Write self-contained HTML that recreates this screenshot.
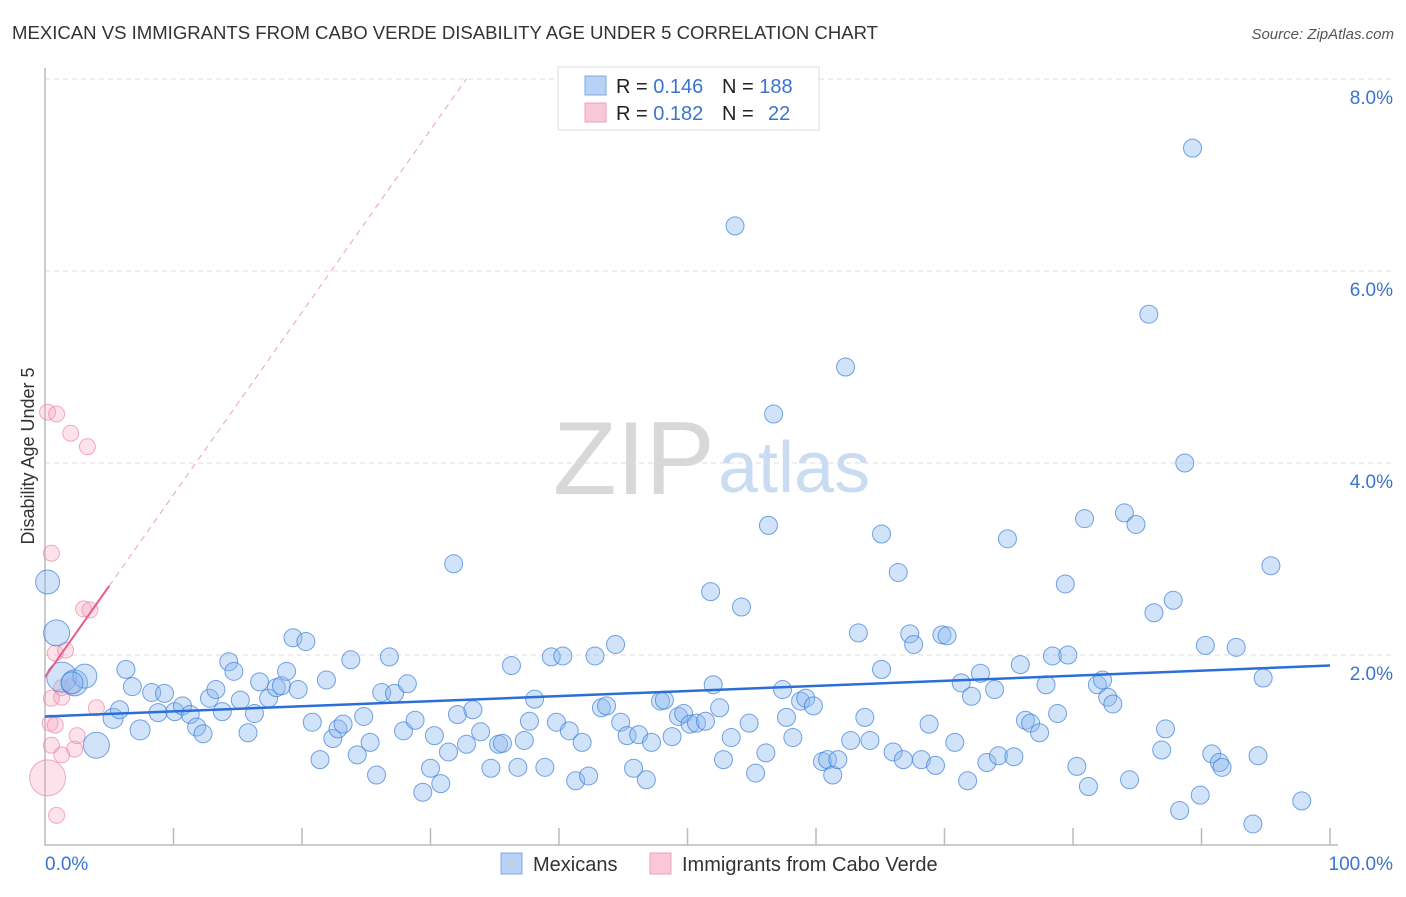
<!DOCTYPE html>
<html><head><meta charset="utf-8"><style>
body{margin:0;background:#fff;font-family:"Liberation Sans",sans-serif;}
svg text{font-family:"Liberation Sans",sans-serif;}
</style></head><body>
<svg id="chart" width="1406" height="892" xmlns="http://www.w3.org/2000/svg">
<text x="12" y="39" font-size="18" fill="#333" textLength="866" lengthAdjust="spacingAndGlyphs">MEXICAN VS IMMIGRANTS FROM CABO VERDE DISABILITY AGE UNDER 5 CORRELATION CHART</text>
<text x="1394" y="39" font-size="15" fill="#555" font-style="italic" text-anchor="end">Source: ZipAtlas.com</text>
<g>
<text x="553" y="494" font-size="104" fill="#d8d8d8" font-family="Liberation Serif,serif">ZIP</text>
<text x="718" y="492" font-size="72" fill="#c9dcf2">atlas</text>
</g>
<g id="grid"></g>
<g id="axes"></g>
<g id="pts"></g>
<g id="lines"></g>
<text x="0" y="0" transform="translate(34,456) rotate(-90)" font-size="18" fill="#333" text-anchor="middle">Disability Age Under 5</text>
<text x="45" y="870" font-size="19" fill="#3a74d0">0.0%</text>
<text x="1393" y="870" font-size="19" fill="#3a74d0" text-anchor="end">100.0%</text>
<g>
<rect x="558" y="67" width="261" height="63" fill="#fff" stroke="#ddd"/>
<rect x="585" y="76" width="21" height="19" fill="#b7d2f5" stroke="#7fa8e0"/>
<rect x="585" y="103" width="21" height="19" fill="#f9c8d6" stroke="#eea0b8"/>
<text x="616" y="93" font-size="20" fill="#222">R = <tspan fill="#3a74d0">0.146</tspan><tspan x="722">N = </tspan><tspan fill="#3a74d0">188</tspan></text>
<text x="616" y="120" font-size="20" fill="#222">R = <tspan fill="#3a74d0">0.182</tspan><tspan x="722">N = </tspan><tspan fill="#3a74d0" x="768">22</tspan></text>
</g>
<g>
<rect x="501" y="853" width="21" height="21" fill="#b7d2f5" stroke="#7fa8e0"/>
<text x="533" y="871" font-size="20" fill="#333">Mexicans</text>
<rect x="650" y="853" width="21" height="21" fill="#f9c8d6" stroke="#eea0b8"/>
<text x="682" y="871" font-size="20" fill="#333">Immigrants from Cabo Verde</text>
</g>
</svg>
<script>
const yTicks=[2,4,6,8];
const yTickLabels=["2.0%","4.0%","6.0%","8.0%"];
const xTicks=[10,20,30,40,50,60,70,80,90,100];
const mexX=[0.2,0.9,1.3,2.3,3.1,2.1,4.0,5.3,5.8,6.3,6.8,7.4,8.3,8.8,9.3,10.1,10.7,11.3,11.8,12.3,12.8,13.3,13.8,14.3,14.7,15.2,15.8,16.3,16.7,17.4,18.0,18.4,18.8,19.3,19.7,20.3,20.8,21.4,21.9,22.4,22.8,23.2,23.8,24.3,24.8,25.3,25.8,26.2,26.8,27.2,27.9,28.2,28.8,29.4,30.0,30.3,30.8,31.4,31.8,32.1,32.8,33.3,33.9,34.7,35.3,35.6,36.3,36.8,37.3,37.7,38.1,38.9,39.4,39.8,40.3,40.8,41.3,41.8,42.3,42.8,43.3,43.7,44.4,44.8,45.3,45.8,46.2,46.8,47.2,47.9,48.2,48.8,49.3,49.7,50.2,50.7,51.4,51.8,52.0,52.5,52.8,53.4,53.7,54.2,54.8,55.3,56.1,56.3,56.7,57.4,57.7,58.2,58.8,59.2,59.8,60.5,60.9,61.3,61.7,62.3,62.7,63.3,63.8,64.2,65.1,65.1,66.0,66.4,66.8,67.3,67.6,68.2,68.8,69.3,69.8,70.2,70.8,71.3,71.8,72.1,72.8,73.3,73.9,74.2,74.9,75.4,75.9,76.3,76.7,77.4,77.9,78.4,78.8,79.4,79.6,80.3,80.9,81.2,81.9,82.3,82.7,83.1,84.0,84.4,84.9,85.9,86.3,86.9,87.2,87.8,88.3,88.7,89.3,89.9,90.3,90.8,91.4,91.6,92.7,94.0,94.4,94.8,95.4,97.8];
const mexY=[2.76,2.23,1.77,1.71,1.78,1.71,1.06,1.34,1.43,1.85,1.67,1.22,1.61,1.40,1.60,1.41,1.47,1.38,1.25,1.18,1.55,1.64,1.41,1.93,1.83,1.53,1.19,1.39,1.72,1.55,1.66,1.68,1.83,2.18,1.64,2.14,1.30,0.91,1.74,1.13,1.23,1.28,1.95,0.96,1.36,1.09,0.75,1.61,1.98,1.60,1.21,1.70,1.32,0.57,0.82,1.16,0.66,0.99,2.95,1.38,1.07,1.43,1.20,0.82,1.07,1.08,1.89,0.83,1.11,1.31,1.54,0.83,1.98,1.30,1.99,1.21,0.69,1.09,0.74,1.99,1.45,1.47,2.11,1.30,1.16,0.82,1.17,0.70,1.09,1.52,1.53,1.15,1.36,1.39,1.28,1.29,1.31,2.66,1.69,1.45,0.91,1.14,6.47,2.50,1.29,0.77,0.98,3.35,4.51,1.64,1.35,1.14,1.52,1.55,1.47,0.89,0.91,0.75,0.91,5.00,1.11,2.23,1.35,1.11,3.26,1.85,0.99,2.86,0.91,2.22,2.11,0.91,1.28,0.85,2.21,2.20,1.09,1.71,0.69,1.57,1.81,0.88,1.64,0.95,3.21,0.94,1.90,1.32,1.29,1.19,1.69,1.99,1.39,2.74,2.00,0.84,3.42,0.63,1.69,1.74,1.56,1.49,3.48,0.70,3.36,5.55,2.44,1.01,1.23,2.57,0.38,4.00,7.28,0.54,2.10,0.97,0.88,0.83,2.08,0.24,0.95,1.76,2.93,0.48];
const mexSize=[12,13,15,13,12,11,13,10,9,9,9,10];
const cvX=[0.2,0.9,2.0,3.3,0.5,3.0,3.5,0.8,1.6,1.3,2.1,0.5,0.4,0.8,1.3,4.0,0.5,1.3,2.3,2.5,0.2,0.9];
const cvY=[4.53,4.51,4.31,4.17,3.06,2.48,2.47,2.02,2.05,1.66,1.68,1.55,1.29,1.27,1.56,1.45,1.06,0.96,1.02,1.16,0.72,0.33];
const cvSize=[8,8,8,8,8,8,8,8,8,8,8,8,8,8,8,8,8,8,8,8,18,8];
const mexTrend=[1.36,1.89];
const cvTrend=[1.77,0.19];
const cvSolidEnd=5, cvDashEnd=32.8;
const NS="http://www.w3.org/2000/svg";
const xs=v=>45+v/100*1285, ys=v=>847-v*96;
function mk(tag,attrs,parent){const e=document.createElementNS(NS,tag);for(const k in attrs)e.setAttribute(k,attrs[k]);document.getElementById(parent).appendChild(e);return e;}
yTicks.forEach((t,i)=>{
  const g=mk('line',{x1:45,x2:1393,y1:ys(t),y2:ys(t),stroke:'#ddd','stroke-dasharray':'5,4'},'grid');
  
  
  const tx=mk('text',{x:1393,y:ys(t)+25,'font-size':19,fill:'#3a74d0','text-anchor':'end'},'grid');
  tx.textContent=yTickLabels[i];
  
  
});
const ax=mk('path',{d:'M45,68V845H1338',fill:'none',stroke:'#bbb','stroke-width':1.5},'axes');


xTicks.forEach(t=>{
  const l=mk('line',{x1:xs(t),x2:xs(t),y1:845,y2:828,stroke:'#bbb','stroke-width':1.5},'axes');
  
  
});
cvX.forEach((x,i)=>{
  const c=mk('circle',{cx:xs(x),cy:ys(cvY[i]),r:cvSize[i],fill:'rgba(245,160,185,0.3)',stroke:'rgba(235,120,155,0.6)','stroke-width':1},'pts');
  
  
});
mexX.forEach((x,i)=>{
  const c=mk('circle',{cx:xs(x),cy:ys(mexY[i]),r:mexSize[i]||9,fill:'rgba(140,185,240,0.4)',stroke:'rgba(60,125,215,0.7)','stroke-width':1},'pts');
  
  
});
const bl=mk('line',{x1:xs(0),y1:ys(mexTrend[0]),x2:xs(100),y2:ys(mexTrend[1]),stroke:'#2b6fd6','stroke-width':2.5},'lines');


const cy=x=>cvTrend[0]+cvTrend[1]*x;
const pd=mk('line',{x1:xs(cvSolidEnd),y1:ys(cy(cvSolidEnd)),x2:xs(cvDashEnd),y2:ys(cy(cvDashEnd)),stroke:'#eaa0b8','stroke-width':1,'stroke-dasharray':'6,5'},'lines');


const ps=mk('line',{x1:xs(0),y1:ys(cy(0)),x2:xs(cvSolidEnd),y2:ys(cy(cvSolidEnd)),stroke:'#e85d88','stroke-width':2},'lines');


</script>
</body></html>
